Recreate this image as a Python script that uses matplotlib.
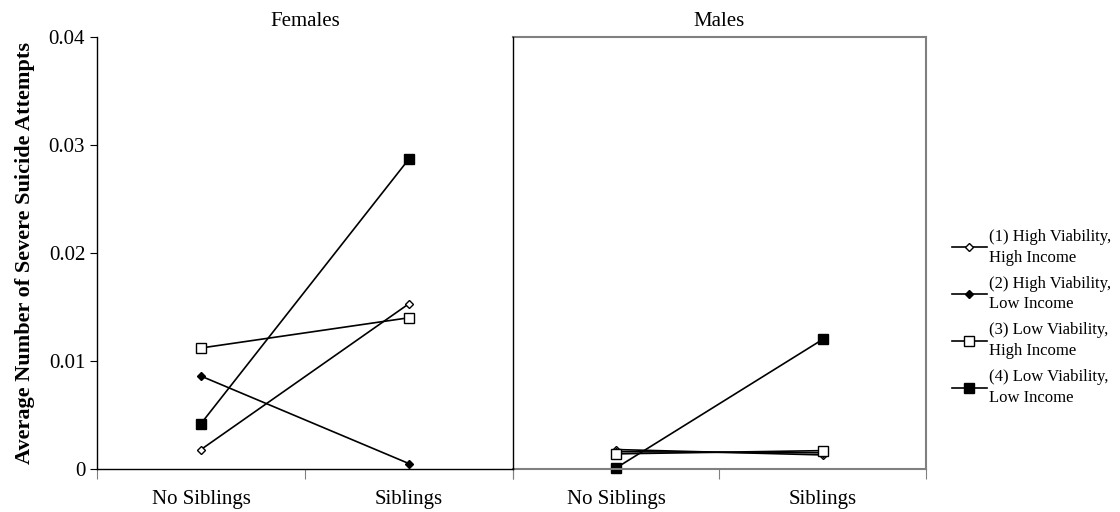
import numpy as np
import matplotlib.pyplot as plt

plt.rcParams['font.family'] = ['Liberation Serif', 'DejaVu Serif']

# -------------------- data --------------------
conditions = ["No Siblings", "Siblings"]
groups = ["Females", "Males"]
series_labels = [
    "(1) High Viability,\nHigh Income",
    "(2) High Viability,\nLow Income",
    "(3) Low Viability,\nHigh Income",
    "(4) Low Viability,\nLow Income",
]
females_vals = [
    [0.0018, 0.0153],
    [0.0086, 0.0005],
    [0.0112, 0.0140],
    [0.0042, 0.0287],
]
males_vals = [
    [0.0018, 0.0013],
    [0.0016, 0.0015],
    [0.0014, 0.0017],
    [0.0001, 0.0120],
]
yticks = [0, 0.01, 0.02, 0.03, 0.04]
ytick_labels = ["0", "0.01", "0.02", "0.03", "0.04"]

# marker, facecolor, size
styles = [
    ("D", "white", 4.5),
    ("D", "black", 4.5),
    ("s", "white", 7),
    ("s", "black", 7),
]

# -------------------- plot --------------------
fig = plt.figure(figsize=(11.2, 5.12), dpi=100)
ax_f = fig.add_axes([0.0866, 0.084, 0.3714, 0.844])
ax_m = fig.add_axes([0.458, 0.084, 0.3688, 0.844])
ax_m.patch.set_visible(False)
ax_f.set_zorder(2)
ax_f.patch.set_visible(False)

x = np.arange(len(conditions))
handles = []
for ax, vals in [(ax_f, females_vals), (ax_m, males_vals)]:
    for lab, v, (mk, fc, ms) in zip(series_labels, vals, styles):
        h, = ax.plot(x, v, color="black", lw=1.2, marker=mk, markersize=ms,
                     markerfacecolor=fc, markeredgecolor="black", markeredgewidth=1.0,
                     label=lab, clip_on=False)
        if ax is ax_f:
            handles.append(h)
    ax.set_xlim(-0.5, 1.5)
    ax.set_ylim(0, 0.04)
    ax.set_xticks([-0.5, 0.5, 1.5])
    ax.set_xticklabels([])
    ax.set_xticks(x, minor=True)
    ax.set_xticklabels(conditions, minor=True, fontsize=15)
    ax.tick_params(axis="x", which="minor", length=0, pad=15)
    ax.tick_params(axis="x", which="major", length=7, direction="out", color="#808080")

ax_f.set_title("Females", fontsize=15, pad=8)
ax_m.set_title("Males", fontsize=15, pad=8)

ax_f.set_yticks(yticks)
ax_f.set_yticklabels(ytick_labels, fontsize=15)
ax_f.tick_params(axis="y", length=5, direction="out")
ax_f.set_ylabel("Average Number of Severe Suicide Attempts", fontsize=16,
                fontweight="bold", labelpad=10)
ax_f.spines["top"].set_visible(False)
for s in ["left", "bottom", "right"]:
    ax_f.spines[s].set_color("black")
    ax_f.spines[s].set_linewidth(1.0)

ax_m.set_yticks([])
ax_m.spines["left"].set_visible(False)
for s in ["top", "right", "bottom"]:
    ax_m.spines[s].set_color("#808080")
    ax_m.spines[s].set_linewidth(1.5)

leg = fig.legend(handles=handles, loc="center left", bbox_to_anchor=(0.844, 0.38),
                 frameon=False, fontsize=12, handlelength=2.1, handletextpad=0.1,
                 labelspacing=0.6, borderaxespad=0)
for t in leg.get_texts():
    t.set_linespacing(1.4)

fig.savefig("out.png", dpi=100)
